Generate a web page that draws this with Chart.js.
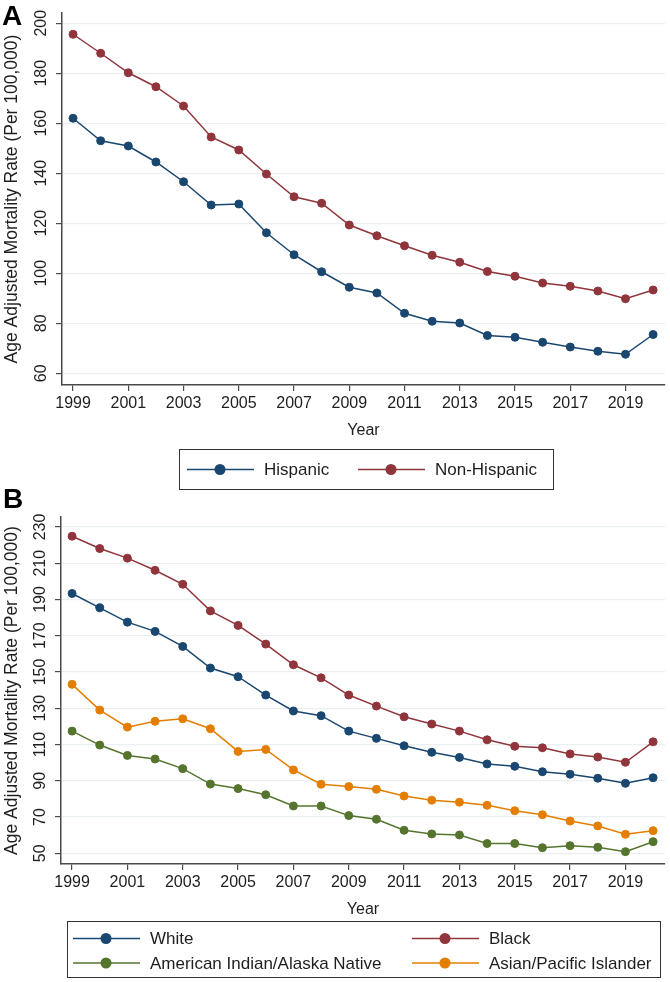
<!DOCTYPE html>
<html lang="en">
<head>
<meta charset="UTF-8">
<title>Age Adjusted Mortality Rate</title>
<script src="https://cdn.jsdelivr.net/npm/chart.js@4.4.0/dist/chart.umd.min.js"></script>
<style>
  body { margin: 0; background: #fff; }
  .panel { position: relative; width: 670px; }
</style>
</head>
<body>
<!-- panel A is a bit taller so its legend box can reach under the B letter -->
<div class="panel" style="height:492px"><canvas id="chartA"></canvas></div>
<div class="panel" style="height:500px; margin-top:-10px"><canvas id="chartB"></canvas></div>
<script>
// years on the x axis and the odd years used as tick labels
const years = [1999, 2000, 2001, 2002, 2003, 2004, 2005, 2006, 2007, 2008, 2009, 2010,
               2011, 2012, 2013, 2014, 2015, 2016, 2017, 2018, 2019, 2020];
const yearTicks = [1999, 2001, 2003, 2005, 2007, 2009, 2011, 2013, 2015, 2017, 2019];

// panel A : ethnicity
const hispanic = [162.0, 153.0, 150.9, 144.5, 136.6, 127.3, 127.7, 116.2, 107.4, 100.6, 94.4,
                  92.1, 84.0, 80.8, 80.1, 75.1, 74.4, 72.4, 70.5, 68.8, 67.6, 75.5];
const nonHispanic = [195.6, 188.0, 180.2, 174.6, 166.9, 154.5, 149.3, 139.7, 130.6, 128.0, 119.3,
                     115.0, 111.0, 107.2, 104.4, 100.7, 98.8, 96.1, 94.8, 92.9, 89.8, 93.3];
const ticksA = [60, 80, 100, 120, 140, 160, 180, 200];

// panel B : race
const white = [193.3, 185.4, 177.5, 172.4, 164.1, 152.2, 147.4, 137.3, 128.5, 125.9, 117.4,
               113.4, 109.3, 105.7, 102.9, 99.3, 98.0, 95.0, 93.6, 91.4, 88.6, 91.7];
const black = [224.9, 218.1, 212.8, 206.1, 198.4, 183.7, 175.7, 165.4, 154.0, 146.8, 137.3,
               131.2, 125.3, 121.3, 117.4, 112.6, 109.0, 108.2, 104.8, 103.1, 100.2, 111.5];
const aian = [117.4, 109.7, 104.0, 102.0, 96.7, 88.2, 85.7, 82.3, 76.1, 76.1, 70.8,
              68.8, 62.7, 60.7, 60.1, 55.4, 55.4, 53.1, 54.2, 53.3, 50.9, 56.4];
const asian = [143.2, 129.0, 119.6, 122.8, 124.2, 118.7, 106.2, 107.3, 96.0, 88.1, 86.8,
               85.3, 81.6, 79.3, 78.2, 76.5, 73.5, 71.3, 67.8, 65.1, 60.5, 62.5];
const ticksB = [50, 70, 90, 110, 130, 150, 170, 190, 210, 230];

// stata-like colours
const NAVY = 'rgb(26, 71, 111)';
const MAROON = 'rgb(144, 53, 59)';
const GREEN = 'rgb(85, 117, 47)';
const ORANGE = 'rgb(227, 126, 0)';

const FONT = '"Liberation Sans", Arial, Helvetica, sans-serif';
const TEXT = '#1e1e1e';
const AXIS = '#4a4a4a';

Chart.defaults.font.family = FONT;
Chart.defaults.color = TEXT;

function serie(label, values, color) {
	return {
		label: label,
		data: values.map((v, i) => ({ x: years[i], y: v })),
		borderColor: color,
		backgroundColor: color,
		borderWidth: 1.5,
		pointRadius: 4,
		pointBorderWidth: 1,
		pointBorderColor: color,
		pointBackgroundColor: color,
		tension: 0
	};
}

// y tick labels are rotated like in stata, chart.js can't do that on a vertical axis
const yLabels = {
	id: 'yLabels',
	afterDraw(chart, args, opts) {
		const ctx = chart.ctx;
		const y = chart.scales.y;
		ctx.save();
		ctx.font = '16px ' + FONT;
		ctx.fillStyle = TEXT;
		ctx.textAlign = 'center';
		ctx.textBaseline = 'middle';
		y.ticks.forEach(t => {
			ctx.save();
			ctx.translate(opts.x, y.getPixelForValue(t.value));
			ctx.rotate(-Math.PI / 2);
			ctx.fillText(String(t.value), 0, 0);
			ctx.restore();
		});
		ctx.restore();
	}
};

// boxed legend (line + dot) and the panel letter
const boxLegend = {
	id: 'boxLegend',
	afterDraw(chart, args, opts) {
		const ctx = chart.ctx;
		ctx.save();
		// panel letter
		ctx.font = 'bold 28px ' + FONT;
		ctx.fillStyle = '#000';
		ctx.textAlign = 'left';
		ctx.textBaseline = 'top';
		ctx.fillText(opts.letter, opts.letterX, opts.letterY);
		// box
		const b = opts.box;
		ctx.strokeStyle = '#333';
		ctx.lineWidth = 1;
		ctx.strokeRect(b[0] + 0.5, b[1] + 0.5, b[2], b[3]);
		// items
		ctx.font = '17px ' + FONT;
		ctx.textBaseline = 'middle';
		opts.items.forEach(it => {
			const ds = chart.data.datasets[it.ds];
			ctx.strokeStyle = ds.borderColor;
			ctx.lineWidth = 1.5;
			ctx.beginPath();
			ctx.moveTo(it.x, it.y);
			ctx.lineTo(it.x + 67, it.y);
			ctx.stroke();
			ctx.fillStyle = ds.borderColor;
			ctx.beginPath();
			ctx.arc(it.x + 33, it.y, 5.5, 0, Math.PI * 2);
			ctx.fill();
			ctx.fillStyle = TEXT;
			ctx.fillText(ds.label, it.x + 77, it.y + 1);
		});
		ctx.restore();
	}
};

function makeChart(id, datasets, yTicks, yMin, yMax, axisLeft, layout, yLabelX, legendOpts) {
	return new Chart(document.getElementById(id), {
		type: 'line',
		data: { datasets: datasets },
		plugins: [yLabels, boxLegend],
		options: {
			responsive: true,
			maintainAspectRatio: false,
			animation: false,
			layout: { padding: layout },
			scales: {
				x: {
					type: 'linear',
					min: 1998.6,
					max: 2020.43,
					afterBuildTicks: s => { s.ticks = yearTicks.map(v => ({ value: v })); },
					afterFit: s => { s.height = 55; },
					ticks: {
						padding: 3,
						font: { size: 16 },
						color: TEXT,
						maxRotation: 0,
						callback: v => String(v)
					},
					grid: {
						drawOnChartArea: false,
						drawTicks: true,
						tickLength: 6,
						tickColor: AXIS,
						lineWidth: 1.2
					},
					border: { color: AXIS, width: 1.5 },
					title: {
						display: true,
						text: 'Year',
						font: { size: 16 },
						color: TEXT,
						padding: { top: 0, bottom: 0 }
					}
				},
				y: {
					min: yMin,
					max: yMax,
					afterBuildTicks: s => { s.ticks = yTicks.map(v => ({ value: v })); },
					afterFit: s => { s.width = axisLeft; },
					ticks: { display: false },
					grid: {
						color: '#eaeff2',
						lineWidth: 1.2,
						drawTicks: true,
						tickLength: 6,
						tickColor: AXIS
					},
					border: { color: AXIS, width: 1.5 },
					title: {
						display: true,
						text: 'Age Adjusted Mortality Rate (Per 100,000)',
						font: { size: 17.5 },
						color: TEXT,
						padding: { top: 2, bottom: 0 }
					}
				}
			},
			plugins: {
				legend: { display: false },
				tooltip: { enabled: false },
				yLabels: { x: yLabelX },
				boxLegend: legendOpts
			}
		}
	});
}

// panel A
makeChart('chartA',
	[serie('Hispanic', hispanic, NAVY), serie('Non-Hispanic', nonHispanic, MAROON)],
	ticksA, 55.3, 204.1, 62,
	{ top: 13, right: 2, bottom: 52, left: 0 }, 42,
	{
		letter: 'A', letterX: 2, letterY: 3,
		box: [179, 449, 374, 40],
		items: [ { ds: 0, x: 187, y: 469.5 }, { ds: 1, x: 358, y: 469.5 } ]
	});

// panel B (its canvas starts at y = 482)
makeChart('chartB',
	[serie('White', white, NAVY), serie('Black', black, MAROON),
	 serie('American Indian/Alaska Native', aian, GREEN), serie('Asian/Pacific Islander', asian, ORANGE)],
	ticksB, 44.1, 235.5, 61,
	{ top: 35, right: 2, bottom: 63, left: 0 }, 41,
	{
		letter: 'B', letterX: 3, letterY: 4,
		box: [67, 439, 593, 56],
		items: [
			{ ds: 0, x: 73, y: 456.5 }, { ds: 1, x: 412, y: 456.5 },
			{ ds: 2, x: 73, y: 481 }, { ds: 3, x: 412, y: 481 }
		]
	});
</script>
</body>
</html>
